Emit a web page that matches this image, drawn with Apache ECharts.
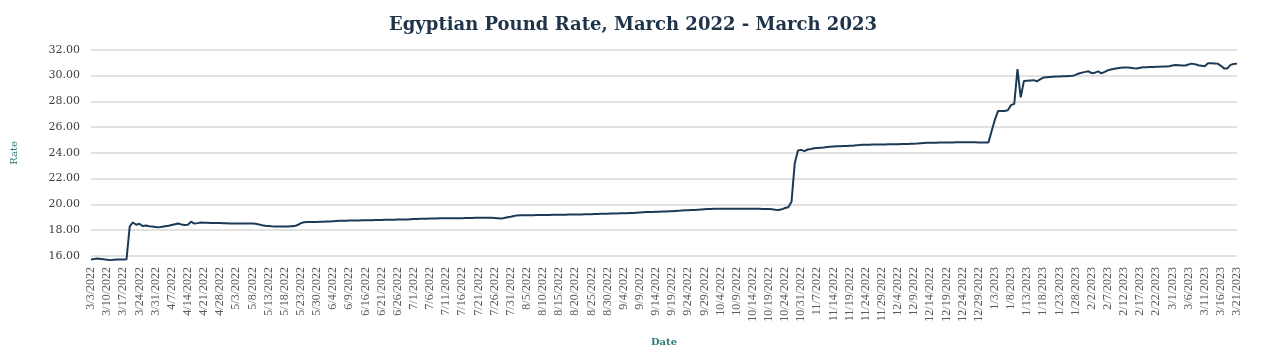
<!DOCTYPE html>
<html>
<head>
<meta charset="utf-8">
<script src="https://cdn.jsdelivr.net/npm/echarts@6/dist/echarts.min.js"></script>
<style>
html,body{margin:0;padding:0;background:#fff;}
#chart{width:1266px;height:352px;}
</style>
</head>
<body>
<div id="chart"></div>
<script>
const dates = ("3/3/2022 3/4/2022 3/7/2022 3/8/2022 3/9/2022 " +
"3/10/2022 3/11/2022 3/14/2022 3/15/2022 3/16/2022 " +
"3/17/2022 3/18/2022 3/21/2022 3/22/2022 3/23/2022 " +
"3/24/2022 3/25/2022 3/28/2022 3/29/2022 3/30/2022 " +
"3/31/2022 4/1/2022 4/4/2022 4/5/2022 4/6/2022 " +
"4/7/2022 4/8/2022 4/11/2022 4/12/2022 4/13/2022 " +
"4/14/2022 4/15/2022 4/18/2022 4/19/2022 4/20/2022 " +
"4/21/2022 4/22/2022 4/25/2022 4/26/2022 4/27/2022 " +
"4/28/2022 4/29/2022 4/30/2022 5/1/2022 5/2/2022 " +
"5/3/2022 5/4/2022 5/5/2022 5/6/2022 5/7/2022 " +
"5/8/2022 5/9/2022 5/10/2022 5/11/2022 5/12/2022 " +
"5/13/2022 5/14/2022 5/15/2022 5/16/2022 5/17/2022 " +
"5/18/2022 5/19/2022 5/20/2022 5/21/2022 5/22/2022 " +
"5/23/2022 5/24/2022 5/25/2022 5/26/2022 5/27/2022 " +
"5/30/2022 5/31/2022 6/1/2022 6/2/2022 6/3/2022 " +
"6/4/2022 6/5/2022 6/6/2022 6/7/2022 6/8/2022 " +
"6/9/2022 6/10/2022 6/13/2022 6/14/2022 6/15/2022 " +
"6/16/2022 6/17/2022 6/18/2022 6/19/2022 6/20/2022 " +
"6/21/2022 6/22/2022 6/23/2022 6/24/2022 6/25/2022 " +
"6/26/2022 6/27/2022 6/28/2022 6/29/2022 6/30/2022 " +
"7/1/2022 7/2/2022 7/3/2022 7/4/2022 7/5/2022 " +
"7/6/2022 7/7/2022 7/8/2022 7/9/2022 7/10/2022 " +
"7/11/2022 7/12/2022 7/13/2022 7/14/2022 7/15/2022 " +
"7/16/2022 7/17/2022 7/18/2022 7/19/2022 7/20/2022 " +
"7/21/2022 7/22/2022 7/23/2022 7/24/2022 7/25/2022 " +
"7/26/2022 7/27/2022 7/28/2022 7/29/2022 7/30/2022 " +
"7/31/2022 8/1/2022 8/2/2022 8/3/2022 8/4/2022 " +
"8/5/2022 8/6/2022 8/7/2022 8/8/2022 8/9/2022 " +
"8/10/2022 8/11/2022 8/12/2022 8/13/2022 8/14/2022 " +
"8/15/2022 8/16/2022 8/17/2022 8/18/2022 8/19/2022 " +
"8/20/2022 8/21/2022 8/22/2022 8/23/2022 8/24/2022 " +
"8/25/2022 8/26/2022 8/27/2022 8/28/2022 8/29/2022 " +
"8/30/2022 8/31/2022 9/1/2022 9/2/2022 9/3/2022 " +
"9/4/2022 9/5/2022 9/6/2022 9/7/2022 9/8/2022 " +
"9/9/2022 9/10/2022 9/11/2022 9/12/2022 9/13/2022 " +
"9/14/2022 9/15/2022 9/16/2022 9/17/2022 9/18/2022 " +
"9/19/2022 9/20/2022 9/21/2022 9/22/2022 9/23/2022 " +
"9/24/2022 9/25/2022 9/26/2022 9/27/2022 9/28/2022 " +
"9/29/2022 9/30/2022 10/1/2022 10/2/2022 10/3/2022 " +
"10/4/2022 10/5/2022 10/6/2022 10/7/2022 10/8/2022 " +
"10/9/2022 10/10/2022 10/11/2022 10/12/2022 10/13/2022 " +
"10/14/2022 10/15/2022 10/16/2022 10/17/2022 10/18/2022 " +
"10/19/2022 10/20/2022 10/21/2022 10/22/2022 10/23/2022 " +
"10/24/2022 10/25/2022 10/26/2022 10/27/2022 10/28/2022 " +
"10/31/2022 11/1/2022 11/2/2022 11/3/2022 11/4/2022 " +
"11/7/2022 11/8/2022 11/9/2022 11/10/2022 11/11/2022 " +
"11/14/2022 11/15/2022 11/16/2022 11/17/2022 11/18/2022 " +
"11/19/2022 11/20/2022 11/21/2022 11/22/2022 11/23/2022 " +
"11/24/2022 11/25/2022 11/26/2022 11/27/2022 11/28/2022 " +
"11/29/2022 11/30/2022 12/1/2022 12/2/2022 12/3/2022 " +
"12/4/2022 12/5/2022 12/6/2022 12/7/2022 12/8/2022 " +
"12/9/2022 12/10/2022 12/11/2022 12/12/2022 12/13/2022 " +
"12/14/2022 12/15/2022 12/16/2022 12/17/2022 12/18/2022 " +
"12/19/2022 12/20/2022 12/21/2022 12/22/2022 12/23/2022 " +
"12/24/2022 12/25/2022 12/26/2022 12/27/2022 12/28/2022 " +
"12/29/2022 12/30/2022 12/31/2022 1/1/2023 1/2/2023 " +
"1/3/2023 1/4/2023 1/5/2023 1/6/2023 1/7/2023 " +
"1/8/2023 1/9/2023 1/10/2023 1/11/2023 1/12/2023 " +
"1/13/2023 1/14/2023 1/15/2023 1/16/2023 1/17/2023 " +
"1/18/2023 1/19/2023 1/20/2023 1/21/2023 1/22/2023 " +
"1/23/2023 1/24/2023 1/25/2023 1/26/2023 1/27/2023 " +
"1/28/2023 1/29/2023 1/30/2023 1/31/2023 2/1/2023 " +
"2/2/2023 2/3/2023 2/4/2023 2/5/2023 2/6/2023 " +
"2/7/2023 2/8/2023 2/9/2023 2/10/2023 2/11/2023 " +
"2/12/2023 2/13/2023 2/14/2023 2/15/2023 2/16/2023 " +
"2/17/2023 2/18/2023 2/19/2023 2/20/2023 2/21/2023 " +
"2/22/2023 2/23/2023 2/24/2023 2/27/2023 2/28/2023 " +
"3/1/2023 3/2/2023 3/3/2023 3/4/2023 3/5/2023 " +
"3/6/2023 3/7/2023 3/8/2023 3/9/2023 3/10/2023 " +
"3/11/2023 3/12/2023 3/13/2023 3/14/2023 3/15/2023 " +
"3/16/2023 3/17/2023 3/18/2023 3/19/2023 3/20/2023 " +
"3/21/2023").split(' ');

const rates = [
15.73,15.76,15.80,15.77,15.74, 15.70,15.68,15.70,15.72,15.73,
15.72,15.74,18.30,18.60,18.42, 18.50,18.32,18.36,18.30,18.28,
18.25,18.22,18.26,18.30,18.34, 18.40,18.46,18.52,18.45,18.40,
18.42,18.66,18.52,18.55,18.60, 18.58,18.57,18.56,18.55,18.55,
18.55,18.54,18.54,18.53,18.53, 18.53,18.53,18.52,18.52,18.52,
18.52,18.50,18.45,18.38,18.34, 18.32,18.30,18.29,18.28,18.28,
18.28,18.28,18.30,18.32,18.40, 18.55,18.62,18.63,18.63,18.64,
18.64,18.65,18.66,18.67,18.68, 18.70,18.72,18.73,18.74,18.74,
18.75,18.75,18.76,18.76,18.77, 18.77,18.78,18.78,18.79,18.80,
18.80,18.81,18.82,18.82,18.82, 18.83,18.83,18.84,18.84,18.85,
18.86,18.87,18.88,18.88,18.88, 18.90,18.91,18.91,18.92,18.92,
18.92,18.92,18.93,18.93,18.93, 18.93,18.94,18.94,18.95,18.96,
18.96,18.97,18.97,18.97,18.96, 18.94,18.92,18.90,18.95,19.00,
19.04,19.10,19.15,19.16,19.17, 19.17,19.17,19.17,19.18,19.18,
19.18,19.18,19.18,19.19,19.19, 19.20,19.20,19.20,19.21,19.21,
19.22,19.22,19.22,19.23,19.23, 19.24,19.25,19.26,19.27,19.28,
19.28,19.29,19.30,19.30,19.31, 19.31,19.32,19.33,19.34,19.36,
19.38,19.40,19.41,19.42,19.42, 19.43,19.44,19.45,19.46,19.47,
19.48,19.49,19.50,19.52,19.54, 19.55,19.56,19.56,19.58,19.60,
19.62,19.64,19.65,19.66,19.66, 19.66,19.66,19.67,19.67,19.67,
19.67,19.67,19.67,19.66,19.66, 19.66,19.66,19.66,19.65,19.65,
19.65,19.62,19.58,19.57,19.62, 19.72,19.78,20.20,23.20,24.18,
24.23,24.13,24.26,24.30,24.35, 24.38,24.40,24.42,24.45,24.48,
24.50,24.51,24.52,24.53,24.54, 24.55,24.56,24.58,24.60,24.63,
24.63,24.63,24.64,24.64,24.65, 24.65,24.65,24.66,24.66,24.67,
24.67,24.68,24.68,24.69,24.70, 24.71,24.72,24.74,24.76,24.78,
24.78,24.79,24.79,24.80,24.80, 24.80,24.81,24.81,24.82,24.82,
24.82,24.83,24.83,24.83,24.82, 24.81,24.80,24.80,24.80,25.70,
26.57,27.25,27.25,27.25,27.30, 27.70,27.80,30.50,28.30,29.58,
29.60,29.62,29.64,29.55,29.70, 29.84,29.86,29.88,29.90,29.92,
29.93,29.94,29.95,29.96,29.97, 30.05,30.15,30.22,30.28,30.32,
30.18,30.22,30.32,30.17,30.28, 30.40,30.47,30.52,30.56,30.60,
30.62,30.62,30.60,30.56,30.55, 30.60,30.63,30.64,30.65,30.66,
30.67,30.68,30.69,30.70,30.72, 30.78,30.82,30.80,30.78,30.77,
30.85,30.92,30.88,30.80,30.76, 30.72,30.94,30.94,30.93,30.92,
30.75,30.55,30.55,30.82,30.90, 30.92
];

const tickLabels = ['3/3/2022','3/10/2022','3/17/2022','3/24/2022','3/31/2022','4/7/2022','4/14/2022','4/21/2022','4/28/2022','5/3/2022','5/8/2022','5/13/2022','5/18/2022','5/23/2022','5/30/2022','6/4/2022','6/9/2022','6/16/2022','6/21/2022','6/26/2022','7/1/2022','7/6/2022','7/11/2022','7/16/2022','7/21/2022','7/26/2022','7/31/2022','8/5/2022','8/10/2022','8/15/2022','8/20/2022','8/25/2022','8/30/2022','9/4/2022','9/9/2022','9/14/2022','9/19/2022','9/24/2022','9/29/2022','10/4/2022','10/9/2022','10/14/2022','10/19/2022','10/24/2022','10/31/2022','11/7/2022','11/14/2022','11/19/2022','11/24/2022','11/29/2022','12/4/2022','12/9/2022','12/14/2022','12/19/2022','12/24/2022','12/29/2022','1/3/2023','1/8/2023','1/13/2023','1/18/2023','1/23/2023','1/28/2023','2/2/2023','2/7/2023','2/12/2023','2/17/2023','2/22/2023','3/1/2023','3/6/2023','3/11/2023','3/16/2023','3/21/2023'];

const yTicks = [16, 18, 20, 22, 24, 26, 28, 30, 32];

const chart = echarts.init(document.getElementById('chart'), null, {renderer: 'canvas'});
chart.setOption({
  animation: false,
  backgroundColor: '#ffffff',
  title: {
    text: 'Egyptian Pound Rate, March 2022 - March 2023',
    left: 'center',
    top: 11,
    textStyle: {fontFamily: 'DejaVu Serif', fontSize: 18, fontWeight: 'bold', color: '#1f3449'}
  },
  grid: {left: 91, right: 29, top: 49.7, bottom: 90.3, containLabel: false},
  xAxis: {
    type: 'category',
    data: dates,
    boundaryGap: false,
    name: 'Date',
    nameLocation: 'middle',
    nameGap: 81,
    nameTextStyle: {fontFamily: 'DejaVu Serif', fontSize: 10, color: '#2b7a78', fontWeight: 'bold'},
    axisLine: {show: false},
    axisTick: {show: false},
    axisLabel: {
      interval: function (idx, val) { return tickLabels.indexOf(val) >= 0; },
      rotate: 90,
      margin: 11,
      fontFamily: 'Liberation Serif',
      fontSize: 12,
      color: '#595959'
    }
  },
  yAxis: {
    type: 'value',
    min: yTicks[0],
    max: yTicks[yTicks.length - 1],
    interval: 2,
    name: 'Rate',
    nameLocation: 'middle',
    nameGap: 72,
    nameTextStyle: {fontFamily: 'DejaVu Serif', fontSize: 10, color: '#2b7a78'},
    axisLine: {show: false},
    axisTick: {show: false},
    splitLine: {lineStyle: {color: '#d9d9d9', width: 1.5}},
    axisLabel: {
      formatter: function (v) { return v.toFixed(2); },
      margin: 11,
      fontFamily: 'DejaVu Serif',
      fontSize: 11,
      color: '#404040'
    }
  },
  series: [{
    type: 'line',
    data: rates,
    clip: false,
    showSymbol: false,
    symbol: 'none',
    lineStyle: {color: '#1b3a57', width: 2},
    emphasis: {disabled: true}
  }]
});
</script>
</body>
</html>
